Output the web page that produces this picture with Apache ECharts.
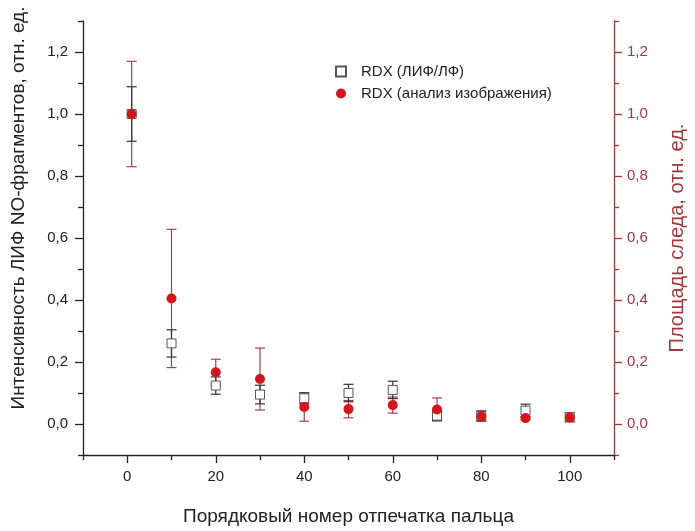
<!DOCTYPE html>
<html>
<head>
<meta charset="utf-8">
<script src="https://cdn.jsdelivr.net/npm/echarts@6/dist/echarts.min.js"></script>
<style>
  html, body { margin: 0; padding: 0; background: #fff; }
  #chart { width: 695px; height: 531px; }
</style>
</head>
<body>
<div id="chart"></div>
<script>
// номер отпечатка
const prints = [1, 10, 20, 30, 40, 50, 60, 70, 80, 90, 100]
// RDX (ЛИФ/ЛФ), левая ось
const lifValues = [1.0, 0.26, 0.124, 0.095, 0.083, 0.100, 0.110, 0.027, 0.026, 0.043, 0.022]
const lifErrors = [0.088, 0.044, 0.028, 0.030, 0.017, 0.028, 0.028, 0.016, 0.016, 0.021, 0.014]
// RDX (анализ изображения), правая ось
const imgValues = [1.0, 0.405, 0.167, 0.145, 0.055, 0.048, 0.061, 0.047, 0.025, 0.019, 0.021]
const imgErrors = [0.17, 0.223, 0.042, 0.100, 0.046, 0.028, 0.026, 0.037, 0.016, 0.005, 0.014]

const xMajor = [0, 20, 40, 60, 80, 100]
const xMinor = [-10, 10, 30, 50, 70, 90, 110]
const yMajor = [0, 0.2, 0.4, 0.6, 0.8, 1.0, 1.2]
const yMinor = [-0.1, 0.1, 0.3, 0.5, 0.7, 0.9, 1.1, 1.3]

const DARK = '#222'
const WINE = '#a0393a'
const RED = '#d4161c'
const FONT = 'Liberation Sans, Arial, sans-serif'

const comma = v => Number(v).toFixed(1).replace('.', ',')

function errBars(color) {
  return (params, api) => {
    const x = api.value(0)
    const y = api.value(1)
    const e = api.value(2)
    const top = api.coord([x, y + e])
    const bot = api.coord([x, y - e])
    const hw = 5
    const style = { stroke: color, lineWidth: 1.2 }
    return {
      type: 'group',
      children: [
        { type: 'line', shape: { x1: top[0], y1: top[1], x2: bot[0], y2: bot[1] }, style },
        { type: 'line', shape: { x1: top[0] - hw, y1: top[1], x2: top[0] + hw, y2: top[1] }, style },
        { type: 'line', shape: { x1: bot[0] - hw, y1: bot[1], x2: bot[0] + hw, y2: bot[1] }, style }
      ]
    }
  }
}

function yAxisPair(side, color, name, nameGap, margin, fontSize, shift) {
  const base = { type: 'value', min: -0.1, max: 1.3, position: side, splitLine: { show: false } }
  return [
    Object.assign({}, base, {
      name: name,
      nameLocation: 'middle',
      nameRotate: 90,
      nameGap: nameGap,
      nameTextStyle: { fontSize: fontSize, color: color, fontFamily: FONT, padding: shift },
      axisLine: { show: true, onZero: false, lineStyle: { color: color, width: 1.3 } },
      axisTick: { show: true, length: 8, customValues: yMajor, lineStyle: { color: color, width: 1.3 } },
      axisLabel: { customValues: yMajor, formatter: comma, fontSize: 15, color: color, margin: margin, fontFamily: FONT }
    }),
    Object.assign({}, base, {
      axisLine: { show: false, onZero: false },
      axisTick: { show: true, length: 5, customValues: yMinor, lineStyle: { color: color, width: 1.3 } },
      axisLabel: { show: false }
    })
  ]
}

const chart = echarts.init(document.getElementById('chart'))

chart.setOption({
  backgroundColor: '#fff',
  animation: false,
  grid: { left: 83, right: 63, top: 21, bottom: 64 },
  legend: {
    orient: 'vertical',
    left: 330,
    top: 59,
    itemWidth: 10,
    itemHeight: 10,
    itemGap: 7,
    data: ['RDX (ЛИФ/ЛФ)', 'RDX (анализ изображения)'],
    textStyle: { fontSize: 15, color: DARK, fontFamily: FONT, padding: [0, 0, 0, 10] }
  },
  xAxis: [
    {
      type: 'value',
      min: -10,
      max: 110,
      name: 'Порядковый номер отпечатка пальца',
      nameLocation: 'middle',
      nameGap: 52,
      nameTextStyle: { fontSize: 19, color: DARK, fontFamily: FONT },
      splitLine: { show: false },
      axisLine: { onZero: false, lineStyle: { color: DARK, width: 1.3 } },
      axisTick: { length: 8, customValues: xMajor, lineStyle: { color: DARK, width: 1.3 } },
      axisLabel: { customValues: xMajor, fontSize: 15, color: DARK, margin: 14, fontFamily: FONT }
    },
    {
      type: 'value',
      min: -10,
      max: 110,
      position: 'bottom',
      splitLine: { show: false },
      axisLine: { show: false, onZero: false },
      axisTick: { length: 5, customValues: xMinor, lineStyle: { color: DARK, width: 1.3 } },
      axisLabel: { show: false }
    }
  ],
  yAxis: [
    ...yAxisPair('left', DARK, 'Интенсивность ЛИФ NO-фрагментов, отн. ед.', 55, 15, 19, [0, 0, 0, 60]),
    ...yAxisPair('right', WINE, 'Площадь следа, отн. ед.', 53, 13, 20, [0, 0, 0, 0])
  ],
  series: [
    {
      type: 'custom',
      name: 'err-img',
      xAxisIndex: 0,
      yAxisIndex: 2,
      renderItem: errBars('#a04545'),
      data: prints.map((x, i) => [x, imgValues[i], imgErrors[i]]),
      z: 2
    },
    {
      type: 'custom',
      name: 'err-lif',
      xAxisIndex: 0,
      yAxisIndex: 0,
      renderItem: errBars('#333'),
      data: prints.map((x, i) => [x, lifValues[i], lifErrors[i]]),
      z: 2
    },
    {
      type: 'scatter',
      name: 'RDX (ЛИФ/ЛФ)',
      xAxisIndex: 0,
      yAxisIndex: 0,
      symbol: 'rect',
      symbolSize: 9,
      itemStyle: { color: '#fff', borderColor: '#555', borderWidth: 1, opacity: 1 },
      data: prints.map((x, i) => [x, lifValues[i]]),
      z: 3
    },
    {
      type: 'scatter',
      name: 'RDX (анализ изображения)',
      xAxisIndex: 0,
      yAxisIndex: 2,
      symbol: 'circle',
      symbolSize: 10,
      itemStyle: { color: RED, opacity: 1 },
      data: prints.map((x, i) => [x, imgValues[i]]),
      z: 4
    }
  ]
})
</script>
</body>
</html>
